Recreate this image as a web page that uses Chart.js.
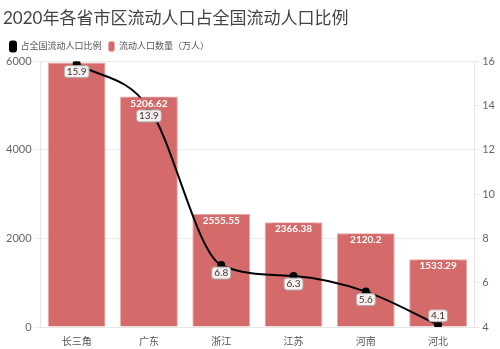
<!DOCTYPE html>
<html>
<head>
<meta charset="utf-8">
<script src="https://cdn.jsdelivr.net/npm/chart.js@4"></script>
<style>
  html, body { margin: 0; padding: 0; background: #fff; }
  #wrap { width: 500px; height: 349px; }
</style>
</head>
<body>
<div id="wrap"><canvas id="chart"></canvas></div>
<script>
// 数据
const regions = ['长三角', '广东', '浙江', '江苏', '河南', '河北'];
const migrants = [5977, 5206.62, 2555.55, 2366.38, 2120.2, 1533.29];
const shares = [15.9, 13.9, 6.8, 6.3, 5.6, 4.1];

const FONT = 'Lato, "Noto Sans CJK SC", sans-serif';
const barColor = '#d46a6a';

// 自定义数据标签
const labelPlugin = {
  id: 'valueLabels',
  afterDatasetsDraw(chart) {
    const ctx = chart.ctx;
    ctx.save();
    ctx.textAlign = 'center';
    ctx.textBaseline = 'middle';

    // 柱子标签
    const barMeta = chart.getDatasetMeta(1);
    ctx.font = 'bold 10px ' + FONT;
    barMeta.data.forEach((bar, i) => {
      if (i === 0) return; // 与折线标签重叠，隐藏
      const txt = String(migrants[i]);
      const w = ctx.measureText(txt).width + 4;
      const y = bar.y + 7;
      ctx.fillStyle = barColor;
      ctx.fillRect(bar.x - w / 2, y - 6, w, 12);
      ctx.fillStyle = '#fff';
      ctx.fillText(txt, bar.x, y);
    });

    // 折线标签
    const lineMeta = chart.getDatasetMeta(0);
    ctx.font = '10px ' + FONT;
    lineMeta.data.forEach((pt, i) => {
      const txt = String(shares[i]);
      const w = ctx.measureText(txt).width + 5;
      const y = i === shares.length - 1 ? pt.y - 9 : pt.y + 8;
      ctx.beginPath();
      ctx.roundRect(pt.x - w / 2, y - 6, w, 12, 3);
      ctx.fillStyle = 'rgba(255,255,255,0.9)';
      ctx.fill();
      ctx.strokeStyle = '#aaa';
      ctx.lineWidth = 1;
      ctx.stroke();
      ctx.fillStyle = '#333';
      ctx.fillText(txt, pt.x, y);
    });
    ctx.restore();
  }
};

new Chart(document.getElementById('chart'), {
  data: {
    labels: regions,
    datasets: [
      {
        type: 'line',
        label: '占全国流动人口比例',
        data: shares,
        yAxisID: 'y1',
        borderColor: '#000',
        backgroundColor: '#000',
        borderWidth: 2,
        pointRadius: 3,
        cubicInterpolationMode: 'monotone',
        order: 0
      },
      {
        type: 'bar',
        label: '流动人口数量（万人）',
        data: migrants,
        yAxisID: 'y',
        backgroundColor: barColor,
        borderColor: '#eaaaaa',
        borderWidth: 1,
        barPercentage: 0.8,
        categoryPercentage: 1,
        order: 1
      }
    ]
  },
  options: {
    responsive: true,
    maintainAspectRatio: false,
    animation: false,
    layout: { padding: { left: 3, right: 2, bottom: 0, top: 6 } },
    plugins: {
      title: {
        display: true,
        text: '2020年各省市区流动人口占全国流动人口比例',
        align: 'start',
        color: '#444',
        font: { family: FONT, size: 17, weight: 'normal' },
        padding: { top: 2, bottom: 6 }
      },
      legend: {
        position: 'top',
        align: 'start',
        labels: {
          boxWidth: 6,
          boxHeight: 10,
          useBorderRadius: true,
          borderRadius: 2,
          color: '#555',
          padding: 7,
          font: { family: FONT, size: 9 }
        }
      },
      tooltip: { enabled: false }
    },
    scales: {
      x: {
        grid: { display: false },
        border: { color: '#e6e6e6' },
        ticks: { padding: 1, color: '#555', font: { family: FONT, size: 10 } }
      },
      y: {
        position: 'left',
        min: 0,
        max: 6000,
        ticks: {
          stepSize: 2000,
          color: '#666',
          font: { family: FONT, size: 11 },
          callback: v => String(v)
        },
        grid: { color: '#ececec', tickLength: 6 },
        border: { color: '#e6e6e6' }
      },
      y1: {
        position: 'right',
        min: 4,
        max: 16,
        ticks: { stepSize: 2, color: '#666', font: { family: FONT, size: 11 } },
        grid: { drawOnChartArea: false, color: '#e6e6e6', tickLength: 5 },
        border: { color: '#e6e6e6' }
      }
    }
  },
  plugins: [labelPlugin]
});
</script>
</body>
</html>
